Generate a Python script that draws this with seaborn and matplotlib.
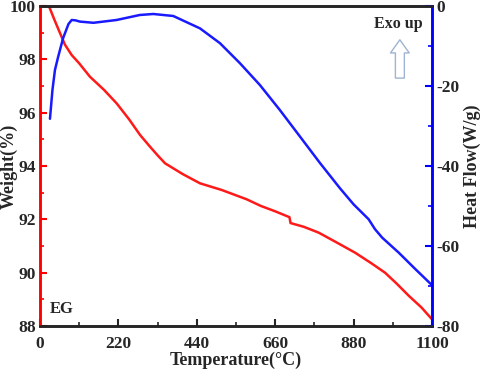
import matplotlib
matplotlib.use("Agg")
import matplotlib.pyplot as plt
import seaborn as sns
import pandas as pd

# TG curve (weight %)
tg_temp = [25, 40, 56, 70, 89, 110, 140, 180, 215, 250, 281, 309, 330, 351, 400, 449,
           510, 580, 620, 660, 700, 703, 740, 782, 830, 884, 930, 968, 1000, 1035, 1070, 1100]
tg_weight = [100.0, 99.5, 98.99, 98.55, 98.16, 97.85, 97.35, 96.85, 96.35, 95.75, 95.16, 94.72,
             94.4, 94.1, 93.7, 93.35, 93.1, 92.75, 92.5, 92.3, 92.08, 91.86, 91.72, 91.5, 91.15,
             90.75, 90.35, 90.0, 89.6, 89.13, 88.7, 88.25]

# DSC curve (heat flow W/g)
dsc_temp = [28, 35, 42, 51, 65, 80, 89, 100, 112, 150, 215, 280, 318, 374, 449, 505, 561,
            617, 673, 730, 786, 842, 880, 922, 940, 960, 1007, 1050, 1100]
dsc_heat = [-28.2, -21.0, -16.0, -12.7, -8.0, -4.5, -3.5, -3.6, -3.9, -4.2, -3.5, -2.25, -2.0,
            -2.5, -5.6, -9.3, -14.3, -19.75, -26.0, -32.7, -39.3, -45.6, -49.6, -53.3, -55.8,
            -57.9, -61.7, -65.5, -69.8]

x_ticks = [0, 220, 440, 660, 880, 1100]
left_ticks = [88, 90, 92, 94, 96, 98, 100]
right_ticks = [-80, -60, -40, -20, 0]

sns.set_style("ticks")
plt.rcParams["font.family"] = ["Liberation Serif", "DejaVu Serif"]
plt.rcParams["font.weight"] = "bold"
plt.rcParams["axes.unicode_minus"] = False

tg = pd.DataFrame({"temp": tg_temp, "weight": tg_weight})
dsc = pd.DataFrame({"temp": dsc_temp, "heat": dsc_heat})

fig = plt.figure(figsize=(4.84, 3.72), dpi=100)
ax = fig.add_axes([0.0826, 0.1237, 0.81, 0.8602])
ax2 = ax.twinx()

sns.lineplot(data=tg, x="temp", y="weight", ax=ax, color="#ff1a1a", linewidth=1.8)
sns.lineplot(data=dsc, x="temp", y="heat", ax=ax2, color="#1a1aff", linewidth=1.8)

ax.set_xlim(0, 1100)
ax.set_ylim(88, 100)
ax2.set_ylim(-80, 0)
ax.set_xticks(x_ticks)
ax.set_yticks(left_ticks)
ax2.set_yticks(right_ticks)
ax.set_xticks([110, 330, 550, 770, 990], minor=True)
ax.set_yticks([89, 91, 93, 95, 97, 99], minor=True)
ax2.set_yticks([-70, -50, -30, -10], minor=True)

for a in (ax, ax2):
    for s in a.spines.values():
        s.set_linewidth(1.8)
ax.spines["left"].set_color("red")
ax2.spines["left"].set_color("red")
ax2.spines["right"].set_color("blue")
ax.spines["right"].set_color("blue")
ax.spines["top"].set_color("black")
ax.spines["bottom"].set_color("black")

ax.tick_params(axis="x", direction="in", length=5, width=1.5, labelsize=12.5, pad=7)
ax.tick_params(axis="x", which="minor", direction="in", length=3, width=1.2)
ax.tick_params(axis="y", direction="in", length=5, width=1.5, color="red", labelsize=12.5, pad=3)
ax.tick_params(axis="y", which="minor", direction="in", length=3, width=1.2, color="red")
ax2.tick_params(axis="y", direction="in", length=5, width=1.5, color="blue", labelsize=12.5, pad=3)
ax2.tick_params(axis="y", which="minor", direction="in", length=3, width=1.2, color="blue")
for lbl in ax.get_xticklabels() + ax.get_yticklabels() + ax2.get_yticklabels():
    lbl.set_fontweight("bold")

ax.set_xlabel("Temperature(°C)", fontsize=13, fontweight="bold", labelpad=0)
ax.set_ylabel("Weight(%)", fontsize=13, fontweight="bold")
ax.yaxis.set_label_coords(-0.056, 0.5)
ax2.set_ylabel("Heat Flow(W/g)", fontsize=13, fontweight="bold", labelpad=3)

ax.text(0.025, 0.04, "EG", transform=ax.transAxes, fontsize=12, fontweight="bold")
ax.text(0.915, 0.945, "Exo up", transform=ax.transAxes, fontsize=11.5, fontweight="bold",
        ha="center", va="center")
# hollow "exo up" arrow
ax.annotate("", xy=(0.918, 0.903), xytext=(0.918, 0.766), xycoords="axes fraction",
            arrowprops=dict(arrowstyle="simple,head_length=0.63,head_width=0.9,tail_width=0.43",
                            mutation_scale=15, fc="white", ec="#9fb4d0", lw=1.0))

fig.savefig("out.png", dpi=100)
